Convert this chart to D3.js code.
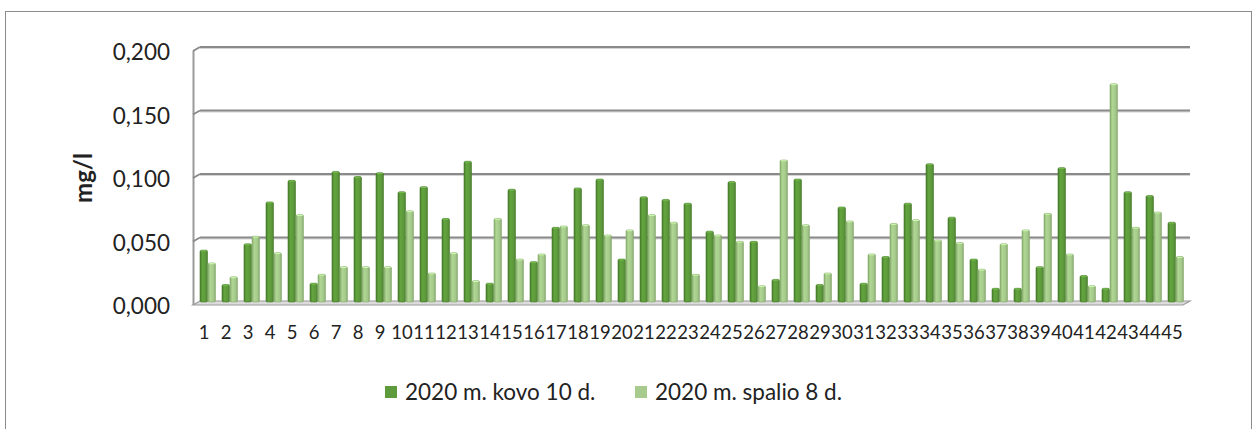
<!DOCTYPE html>
<html><head><meta charset="utf-8">
<script src="https://cdn.jsdelivr.net/npm/d3@7"></script>
<style>body{margin:0;background:#fff;} svg{display:block;}</style>
</head><body><svg id="c" width="1259" height="429"></svg>
<script>
const categories = d3.range(1, 46).map(String);
const seriesNames = ["2020 m. kovo 10 d.", "2020 m. spalio 8 d."];
const kovo = [0.040,0.013,0.045,0.078,0.095,0.014,0.102,0.098,0.101,0.086,
              0.090,0.065,0.110,0.014,0.088,0.031,0.058,0.089,0.096,0.033,
              0.082,0.080,0.077,0.055,0.094,0.047,0.017,0.096,0.013,0.074,
              0.014,0.035,0.077,0.108,0.066,0.033,0.010,0.010,0.027,0.105,
              0.020,0.010,0.086,0.083,0.062];
const spalio = [0.030,0.019,0.051,0.038,0.068,0.021,0.027,0.027,0.027,0.071,
                0.022,0.038,0.016,0.065,0.033,0.037,0.059,0.060,0.052,0.056,
                0.068,0.062,0.021,0.052,0.047,0.012,0.111,0.060,0.022,0.063,
                0.037,0.061,0.064,0.048,0.046,0.025,0.045,0.056,0.069,0.037,
                0.012,0.171,0.058,0.070,0.035];
const yTicks = [0, 0.05, 0.1, 0.15, 0.2];
const yTickLabels = ["0,000","0,050","0,100","0,150","0,200"];
const yTitle = "mg/l";

const colors = ["#5e9b3c", "#a6cb8c"];
const edge = ["#447a28", "#86ad6c"];
const dx = -7, dy = 4; // 3D depth offset (front = back + offset)

const svg = d3.select("#c");
svg.append("rect").attr("x", 5.5).attr("y", 11.5).attr("width", 1246).attr("height", 430)
  .attr("fill", "#fff").attr("stroke", "#8c8c8c").attr("stroke-width", 1);

const y = d3.scaleLinear().domain([0, 0.2]).range([301, 47]);
const x0 = d3.scaleBand().domain(categories).range([193.4, 1190.6]).paddingInner(0.273).paddingOuter(0.3);
const x1 = d3.scaleBand().domain([0, 1]).range([0, x0.bandwidth()]);

const defs = svg.append("defs");
colors.forEach((c, i) => {
  const g = defs.append("linearGradient").attr("id", "g" + i).attr("x1", 0).attr("x2", 1).attr("y1", 0).attr("y2", 0);
  const base = d3.color(c);
  g.append("stop").attr("offset", "0%").attr("stop-color", d3.color(edge[i]).formatHex());
  g.append("stop").attr("offset", "30%").attr("stop-color", base.brighter(0.15).formatHex());
  g.append("stop").attr("offset", "70%").attr("stop-color", base.formatHex());
  g.append("stop").attr("offset", "100%").attr("stop-color", base.darker(0.5).formatHex());
});

const xL = 200, xR = 1190;
// floor
const floorY = y(0);
svg.append("path")
  .attr("d", `M${xL},${floorY} L${xR},${floorY} L${xR+dx},${floorY+dy} L${xL+dx},${floorY+dy} Z`)
  .attr("fill", "#dcdcdc").attr("stroke", "#9a9a9a").attr("stroke-width", 1.2);
// left wall
svg.append("line").attr("x1", xL+dx+0.5).attr("x2", xL+dx+0.5).attr("y1", y(0.2)+dy).attr("y2", floorY+dy)
  .attr("stroke", "#9a9a9a").attr("stroke-width", 2);
// gridlines
yTicks.forEach(t => {
  if (t === 0) return;
  const yy = y(t);
  svg.append("line").attr("x1", xL).attr("x2", xR).attr("y1", yy+1.3).attr("y2", yy+1.3)
    .attr("stroke", "#d4d4d4").attr("stroke-width", 1.3);
  svg.append("line").attr("x1", xL).attr("x2", xR).attr("y1", yy).attr("y2", yy)
    .attr("stroke", "#8a8a8a").attr("stroke-width", 1.9);
  svg.append("line").attr("x1", xL+dx).attr("x2", xL).attr("y1", yy+dy).attr("y2", yy)
    .attr("stroke", "#8a8a8a").attr("stroke-width", 1.9);
});

// bars
const series = [kovo, spalio];
const barW = 7.5;
series.forEach((vals, si) => {
  const g = svg.append("g");
  g.selectAll("rect").data(vals).join("rect")
    .attr("x", (d, i) => x0(categories[i]) + x1(si))
    .attr("y", d => y(d))
    .attr("width", barW)
    .attr("height", d => y(0) - y(d) + 1)
    .attr("rx", 1.5)
    .attr("fill", `url(#g${si})`)
    .attr("stroke", edge[si]).attr("stroke-width", 0.6);
  g.selectAll("line").data(vals).join("line")
    .attr("x1", (d, i) => x0(categories[i]) + x1(si) + 1)
    .attr("x2", (d, i) => x0(categories[i]) + x1(si) + barW - 1)
    .attr("y1", d => y(d) + 0.8).attr("y2", d => y(d) + 0.8)
    .attr("stroke", d3.color(colors[si]).brighter(0.6).formatHex()).attr("stroke-width", 1);
});

// x labels
svg.append("g").selectAll("text").data(categories).join("text")
  .attr("x", d => x0(d) + x0.bandwidth()/2 - 4)
  .attr("y", 339)
  .attr("text-anchor", "middle")
  .attr("font-family", "Lato, 'Open Sans', sans-serif")
  .attr("font-size", 18.5)
  .attr("fill", "#222")
  .text(d => d);

// y labels
svg.append("g").selectAll("text").data(yTicks).join("text")
  .attr("x", 170)
  .attr("y", d => y(d) + 5 + 8)
  .attr("text-anchor", "end")
  .attr("font-family", "Lato, 'Open Sans', sans-serif")
  .attr("font-size", 22.5)
  .attr("fill", "#222")
  .text((d, i) => yTickLabels[i]);

// y title
svg.append("text")
  .attr("transform", "translate(92,178) rotate(-90)")
  .attr("text-anchor", "middle")
  .attr("font-family", "Lato, 'Open Sans', sans-serif")
  .attr("font-weight", "bold")
  .attr("font-size", 24)
  .attr("fill", "#222")
  .text(yTitle);

// legend
const legX = [385, 635];
seriesNames.forEach((n, i) => {
  svg.append("rect").attr("x", legX[i]).attr("y", 386).attr("width", 12).attr("height", 12).attr("fill", colors[i]);
  svg.append("text").attr("x", legX[i] + 20).attr("y", 400)
    .attr("font-family", "Lato, 'Open Sans', sans-serif")
    .attr("font-size", 22.5).attr("fill", "#222").text(n);
});
</script></body></html>
